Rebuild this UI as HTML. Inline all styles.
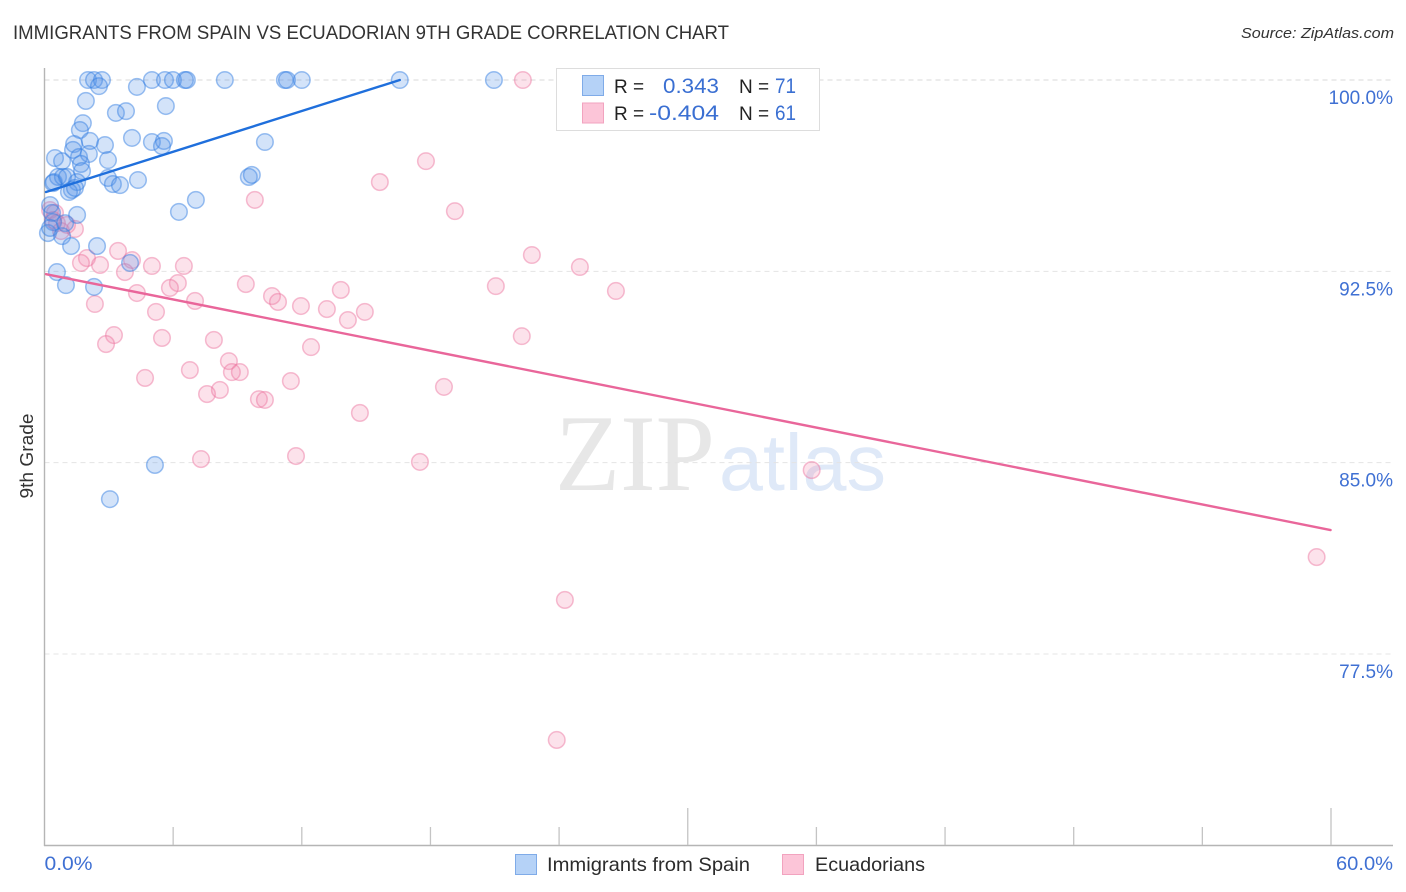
<!DOCTYPE html>
<html lang="en">
<head>
<meta charset="utf-8">
<title>Immigrants from Spain vs Ecuadorian 9th Grade Correlation Chart</title>
<style>
html,body{margin:0;padding:0;background:#fff;}
svg{display:block;font-family:"Liberation Sans",sans-serif;}
</style>
</head>
<body>
<svg id="chart" xmlns="http://www.w3.org/2000/svg" width="1406" height="892" viewBox="0 0 1406 892">
  <rect x="0" y="0" width="1406" height="892" fill="#ffffff"/>
  <text x="13" y="39" font-size="19" fill="#333333" textLength="716" lengthAdjust="spacingAndGlyphs">IMMIGRANTS FROM SPAIN VS ECUADORIAN 9TH GRADE CORRELATION CHART</text>
  <text x="1241" y="38" font-size="15" font-style="italic" fill="#333333" textLength="153" lengthAdjust="spacingAndGlyphs">Source: ZipAtlas.com</text>

  <g>
    <text x="555" y="490" font-family="'Liberation Serif',serif" font-size="109" fill="#e7e7e7" textLength="160" lengthAdjust="spacingAndGlyphs">ZIP</text>
    <text x="719" y="490" style="font-family:'Liberation Sans',sans-serif" font-size="80" fill="#dfe9f8" textLength="167" lengthAdjust="spacingAndGlyphs">atlas</text>
  </g>

  <g id="grid"></g>
  <g id="axes"></g>
  <g id="pink-points"></g>
  <g id="blue-points"></g>
  <g id="trends"></g>

  <g>
    <rect x="556.5" y="68.5" width="263" height="62" fill="#ffffff" stroke="#dddddd" stroke-width="1"/>
    <rect x="582.5" y="75.5" width="21" height="20" fill="#b5d2f7" stroke="#7fabe8" stroke-width="1"/>
    <rect x="582.5" y="103" width="21" height="20" fill="#fcc5d8" stroke="#f2a3bf" stroke-width="1"/>
    <text x="614" y="93" font-size="19" fill="#222222">R =</text>
    <text x="663" y="93" font-size="21" fill="#3a6fd2" textLength="56" lengthAdjust="spacingAndGlyphs">0.343</text>
    <text x="739" y="93" font-size="19" fill="#222222">N =</text>
    <text x="775" y="93" font-size="21" fill="#3a6fd2" textLength="21" lengthAdjust="spacingAndGlyphs">71</text>
    <text x="614" y="120" font-size="19" fill="#222222">R =</text>
    <text x="649" y="120" font-size="21" fill="#3a6fd2" textLength="70" lengthAdjust="spacingAndGlyphs">-0.404</text>
    <text x="739" y="120" font-size="19" fill="#222222">N =</text>
    <text x="775" y="120" font-size="21" fill="#3a6fd2" textLength="21" lengthAdjust="spacingAndGlyphs">61</text>
  </g>

  <text transform="translate(33,456) rotate(-90)" font-size="18" fill="#333333" text-anchor="middle" textLength="85" lengthAdjust="spacingAndGlyphs">9th Grade</text>

  <g>
    <g>
      <rect x="515.5" y="854.5" width="21" height="20" fill="#b5d2f7" stroke="#7fabe8" stroke-width="1"/>
      <text x="547" y="871" font-size="19.5" fill="#2b2b2b" textLength="203" lengthAdjust="spacingAndGlyphs">Immigrants from Spain</text>
    </g>
    <g>
      <rect x="782.5" y="854.5" width="21" height="20" fill="#fcc5d8" stroke="#f2a3bf" stroke-width="1"/>
      <text x="815" y="871" font-size="19.5" fill="#2b2b2b" textLength="110" lengthAdjust="spacingAndGlyphs">Ecuadorians</text>
    </g>
  </g>
</svg>
<script>
// Y axis ticks
const yTickValues = [100, 92.5, 85, 77.5];
const yTickLabels = ["100.0%", "92.5%", "85.0%", "77.5%"];
// X axis ticks
const xTickValues = [6, 12, 18, 24, 30, 36, 42, 48, 54, 60];
const xMajorTicks = [30, 60];
const xEndLabels = ["0.0%", "60.0%"];
const xEndValues = [0, 60];

// Immigrants from Spain (x = share %, y = 9th grade %)
const spainX = [2.03,2.31,2.68,5.01,5.62,5.99,6.55,6.64,8.41,11.21,11.31,12.00,16.57,20.96,
  2.54,4.31,1.93,3.33,3.80,5.66,1.79,1.65,2.12,1.38,2.82,4.08,5.01,5.57,5.48,0.49,0.82,1.33,1.61,2.07,2.96,1.70,1.75,2.96,3.19,3.52,4.36,9.53,9.67,7.06,6.27,1.52,0.44,0.63,0.86,1.05,1.52,1.28,1.14,1.42,0.40,10.28,0.26,0.35,0.40,0.16,0.26,0.96,0.82,1.24,2.45,3.99,0.58,1.00,2.31,5.15,3.05];
const spainY = [100,100,100,100,100,100,100,100,100,100,100,100,100,100,
  99.76,99.73,99.18,98.71,98.78,98.98,98.31,98.04,97.61,97.49,97.45,97.73,97.57,97.61,97.41,96.94,96.82,97.26,96.98,97.10,96.86,96.71,96.43,96.16,95.92,95.88,96.08,96.20,96.28,95.30,94.83,94.71,96.00,96.20,96.20,96.20,96.00,95.69,95.61,95.77,95.96,97.57,95.10,94.79,94.43,94.00,94.20,94.39,93.88,93.49,93.49,92.83,92.47,91.96,91.89,84.91,83.57];

// Ecuadorians
const ecuadorX = [1.98,1.70,2.59,3.43,4.08,3.75,5.01,6.50,6.22,5.85,4.31,7.02,2.35,5.20,9.39,3.24,2.87,5.48,7.90,8.60,8.74,9.11,6.78,4.69,9.81,15.64,17.79,19.14,22.31,22.73,24.97,26.65,21.05,22.26,13.82,10.61,10.89,11.96,13.17,14.15,14.94,12.43,11.49,18.63,14.71,17.51,11.73,7.30,10.00,10.28,7.58,8.18,35.78,59.33,24.27,23.89,0.26,0.49,0.40,0.58,0.77,1.05,1.42];
const ecuadorY = [93.02,92.83,92.75,93.30,92.94,92.47,92.71,92.71,92.04,91.85,91.65,91.34,91.22,90.91,92.00,90.00,89.65,89.89,89.81,88.98,88.55,88.55,88.63,88.32,95.30,96.00,96.82,94.86,100,93.14,92.67,91.73,91.92,89.96,91.77,91.53,91.30,91.14,91.02,90.59,90.91,89.53,88.20,87.97,86.95,85.03,85.26,85.14,87.49,87.46,87.69,87.85,84.71,81.30,79.62,74.13,94.90,94.79,94.51,94.39,94.08,94.32,94.16];

// Trend line endpoints
const spainTrendX = [0.07, 16.57];
const spainTrendY = [95.61, 100];
const ecuadorTrendX = [0.07, 59.98];
const ecuadorTrendY = [92.39, 82.36];

const NS = "http://www.w3.org/2000/svg";
function xScale(v){ return 44.5 + v * (1331 - 44.5) / 60; }
function yScale(v){ return 80 + (100 - v) * (654 - 80) / 22.5; }
function make(tag, attrs, parent){
  const el = document.createElementNS(NS, tag);
  for (const k in attrs) el.setAttribute(k, attrs[k]);
  parent.appendChild(el);
  return el;
}

const grid = document.getElementById("grid");
const axes = document.getElementById("axes");

yTickValues.forEach(function(v, i){
  const line = make("line", {x1:44.5, x2:1393, y1:yScale(v), y2:yScale(v), stroke: i === 0 ? "#d8d8d8" : "#e4e4e4", "stroke-width":1, "stroke-dasharray":"5 4"}, grid);
  
  
  const label = make("text", {x:1393, y:yScale(v) + 24, "font-size":19, fill:"#3f70d3", "text-anchor":"end"}, axes);
  label.textContent = yTickLabels[i];
  
  
});

const yAxisLine = make("line", {x1:44.5, x2:44.5, y1:68, y2:846, stroke:"#b5b5b5", "stroke-width":1.4}, axes);


const xAxisLine = make("line", {x1:44, x2:1393, y1:845.5, y2:845.5, stroke:"#b5b5b5", "stroke-width":1.4}, axes);



xTickValues.forEach(function(v){
  const top = xMajorTicks.indexOf(v) >= 0 ? 808 : 827;
  const tick = make("line", {x1:xScale(v), x2:xScale(v), y1:top, y2:845, stroke:"#c4c4c4", "stroke-width":1.3}, axes);
  
  
});

xEndValues.forEach(function(v, i){
  const label = make("text", {x: i === 0 ? xScale(v) : 1336, y:870, "font-size":19, fill:"#3f70d3", textLength: i === 0 ? 48 : 57, lengthAdjust:"spacingAndGlyphs"}, axes);
  label.textContent = xEndLabels[i];
  
  
});

const pinkGroup = document.getElementById("pink-points");
ecuadorX.forEach(function(v, i){
  const c = make("circle", {cx:xScale(v), cy:yScale(ecuadorY[i]), r:8.3, fill:"rgba(244,132,170,0.24)", stroke:"rgba(236,110,155,0.45)", "stroke-width":1.5}, pinkGroup);
  
  
});

const blueGroup = document.getElementById("blue-points");
spainX.forEach(function(v, i){
  const c = make("circle", {cx:xScale(v), cy:yScale(spainY[i]), r:8.3, fill:"rgba(84,148,232,0.26)", stroke:"rgba(50,125,225,0.48)", "stroke-width":1.5}, blueGroup);
  
  
});

const trends = document.getElementById("trends");
const spainLine = make("line", {x1:xScale(spainTrendX[0]), y1:yScale(spainTrendY[0]), x2:xScale(spainTrendX[1]), y2:yScale(spainTrendY[1]), stroke:"#1f6fdc", "stroke-width":2.4, "stroke-linecap":"round"}, trends);


const ecuadorLine = make("line", {x1:xScale(ecuadorTrendX[0]), y1:yScale(ecuadorTrendY[0]), x2:xScale(ecuadorTrendX[1]), y2:yScale(ecuadorTrendY[1]), stroke:"#e9669a", "stroke-width":2.4, "stroke-linecap":"round"}, trends);


</script>
</body>
</html>
